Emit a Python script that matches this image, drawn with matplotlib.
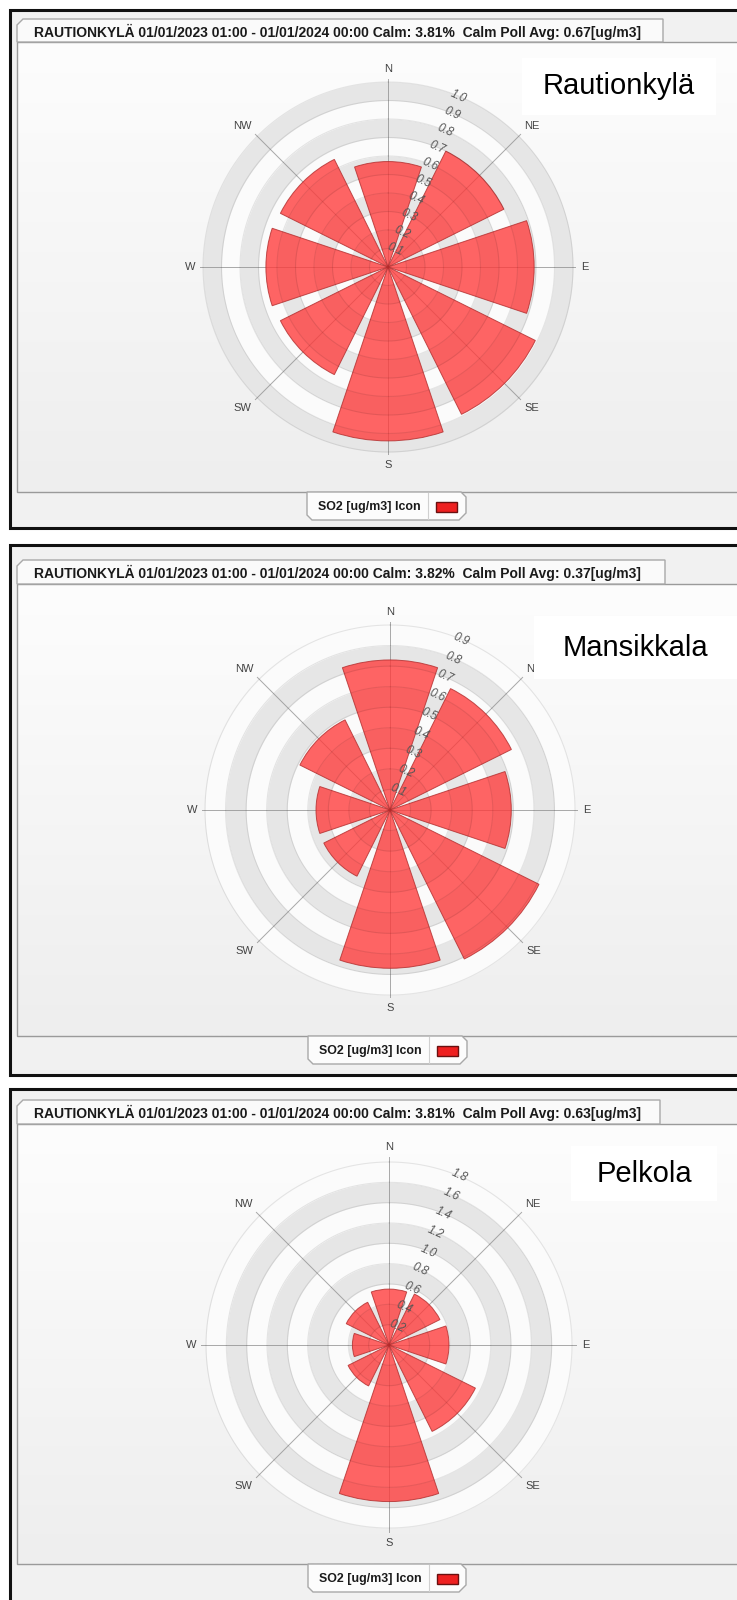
import numpy as np
import matplotlib
matplotlib.use('Agg')
import matplotlib.pyplot as plt
from matplotlib.patches import Rectangle, Polygon

# ---------------- data ----------------
directions = ['N', 'NE', 'E', 'SE', 'S', 'SW', 'W', 'NW']
dir_angles = [0, 45, 90, 135, 180, 225, 270, 315]

rautionkyla = [0.57, 0.70, 0.79, 0.89, 0.94, 0.65, 0.66, 0.65]
mansikkala = [0.73, 0.66, 0.59, 0.81, 0.77, 0.36, 0.36, 0.49]
pelkola = [0.55, 0.56, 0.59, 0.95, 1.54, 0.45, 0.36, 0.47]

ticks_rautionkyla = [0.1, 0.2, 0.3, 0.4, 0.5, 0.6, 0.7, 0.8, 0.9, 1.0]
ticks_mansikkala = [0.1, 0.2, 0.3, 0.4, 0.5, 0.6, 0.7, 0.8, 0.9]
ticks_pelkola = [0.2, 0.4, 0.6, 0.8, 1.0, 1.2, 1.4, 1.6, 1.8]

calm_pct = ['3.81', '3.82', '3.81']
calm_avg = ['0.67', '0.37', '0.63']
site_names = ['Rautionkylä', 'Mansikkala', 'Pelkola']
legend_label = 'SO2 [ug/m3] Icon'
title_fmt = 'RAUTIONKYLÄ 01/01/2023 01:00 - 01/01/2024 00:00 Calm: {}%  Calm Poll Avg: {}[ug/m3]'

series = [rautionkyla, mansikkala, pelkola]
tick_sets = [ticks_rautionkyla, ticks_mansikkala, ticks_pelkola]

# ---------------- layout (pixels) ----------------
W, H = 737, 1600
panels = [
    dict(top=10, bottom=528, tab=(19, 42, 663), plot_bottom=492, leg=(307, 466, 520),
         center=(388, 267), ring_px=185, label_box=(522, 58, 716, 115)),
    dict(top=545, bottom=1075, tab=(560, 584, 665), plot_bottom=1036, leg=(308, 467, 1064),
         center=(390, 810), ring_px=185, label_box=(534, 616, 737, 679)),
    dict(top=1089, bottom=1640, tab=(1100, 1124, 660), plot_bottom=1564, leg=(308, 466, 1592),
         center=(389, 1345), ring_px=183, label_box=(571, 1146, 717, 1201)),
]
COMPASS_PX = 188
LABEL_PAD_PX = 5
label_align = {
    'N': ('center', 'bottom'), 'NE': ('left', 'bottom'), 'E': ('left', 'center'),
    'SE': ('left', 'top'), 'S': ('center', 'top'), 'SW': ('right', 'top'),
    'W': ('right', 'center'), 'NW': ('right', 'bottom'),
}

fig = plt.figure(figsize=(W / 100, H / 100), dpi=100)
fig.patch.set_facecolor('white')

bg = fig.add_axes([0, 0, 1, 1])
bg.set_xlim(0, W)
bg.set_ylim(H, 0)
bg.axis('off')

narrow = ['Liberation Sans Narrow', 'Liberation Sans', 'DejaVu Sans']

renderer = fig.canvas.get_renderer()


def fit_text(t, target_w):
    bb = t.get_window_extent(renderer=renderer)
    t.set_fontsize(t.get_fontsize() * target_w / bb.width)


grad = np.linspace(0, 1, 256).reshape(-1, 1)
gcmap = matplotlib.colors.LinearSegmentedColormap.from_list('g', ['#fdfdfd', '#eeeeee'])

for i, p in enumerate(panels):
    top, bot = p['top'], p['bottom']
    # outer black frame
    bg.add_patch(Rectangle((10, top), W + 20, bot - top, facecolor='#f1f1f1',
                           edgecolor='#111111', lw=2.2, zorder=1))
    # plot area with vertical gradient
    t0, t1, tr = p['tab']
    pb = p['plot_bottom']
    bg.imshow(grad, extent=(17, W + 5, pb, t1), cmap=gcmap, aspect='auto', zorder=2)
    bg.add_patch(Rectangle((17, t1), W, pb - t1, facecolor='none',
                           edgecolor='#9a9a9a', lw=1.0, zorder=3))
    # title tab
    tab = Polygon([(17, t1), (17, t0 + 6), (23, t0), (tr, t0), (tr, t1)], closed=True,
                  facecolor='#fafafa', edgecolor='#a8a8a8', lw=1.0, zorder=4)
    bg.add_patch(tab)
    tt = bg.text(34, (t0 + t1) / 2 + 1, title_fmt.format(calm_pct[i], calm_avg[i]),
                 fontsize=9, family=narrow, fontweight='bold', color='#1a1a1a',
                 ha='left', va='center', zorder=5)
    fit_text(tt, 610)
    # legend tab
    lx0, lx1, ly1 = p['leg']
    ly0 = pb
    leg = Polygon([(lx0, ly0), (lx1 - 5, ly0), (lx1, ly0 + 5), (lx1, ly1 - 7), (lx1 - 7, ly1),
                   (lx0 + 5, ly1), (lx0, ly1 - 5)], closed=True,
                  facecolor='#fcfcfc', edgecolor='#a8a8a8', lw=1.0, zorder=4)
    bg.add_patch(leg)
    lyc = (ly0 + ly1) / 2 + 1
    lt = bg.text(lx0 + 62, lyc, legend_label, fontsize=9, family=narrow, fontweight='bold',
                 color='#1a1a1a', ha='center', va='center', zorder=5)
    fit_text(lt, 102)
    bg.plot([lx0 + 121, lx0 + 121], [ly0 + 1, ly1 - 1], color='#d0d0d0', lw=0.8, zorder=5)
    bg.add_patch(Rectangle((lx0 + 129, lyc - 5), 21, 10, facecolor='#ee2020',
                           edgecolor='#6a1010', lw=1.0, zorder=5))

    # ---------------- rose ----------------
    cx, cy = p['center']
    ticks = tick_sets[i]
    vals = series[i]
    step = ticks[1] - ticks[0]
    rmax = ticks[-1]
    scale = rmax / p['ring_px']          # data units per pixel
    rlim = COMPASS_PX * scale
    ax = fig.add_axes([(cx - COMPASS_PX) / W, 1 - (cy + COMPASS_PX) / H,
                       2 * COMPASS_PX / W, 2 * COMPASS_PX / H], projection='polar')
    ax.set_theta_zero_location('N')
    ax.set_theta_direction(-1)
    ax.set_ylim(0, rlim)
    ax.axis('off')
    th = np.linspace(0, 2 * np.pi, 721)
    for k in range(len(ticks)):
        r0, r1 = k * step, (k + 1) * step
        ax.fill_between(th, r0, r1, color='#e6e6e6' if k % 2 == 1 else '#fbfbfb',
                        lw=0, zorder=1)
    for a in dir_angles:
        ax.plot([np.deg2rad(a), np.deg2rad(a)], [0, rlim], color='#8c8c8c', lw=0.7,
                alpha=0.75, zorder=2)
    ax.bar(np.deg2rad(dir_angles), vals, width=np.deg2rad(37), bottom=0,
           color='#ff3a3a', alpha=0.78, edgecolor='#b02a2a', linewidth=0.7, zorder=3)
    for r in ticks:
        ax.plot(th, np.full_like(th, r), color='black', alpha=0.09, lw=0.8, zorder=4)
    for a, d in zip(dir_angles, directions):
        ha, va = label_align[d]
        ax.text(np.deg2rad(a), (COMPASS_PX + LABEL_PAD_PX) * scale, d, fontsize=8,
                color='#444444', family=narrow, ha=ha, va=va, clip_on=False, zorder=6)
    for r in ticks:
        ax.text(np.deg2rad(22.5), r, '{:.1f}'.format(r), fontsize=8.5, color='#555555',
                family=narrow, style='italic', rotation=-24, rotation_mode='anchor',
                ha='center', va='center', clip_on=False, zorder=6)

top = fig.add_axes([0, 0, 1, 1])
top.set_xlim(0, W)
top.set_ylim(H, 0)
top.axis('off')
top.patch.set_alpha(0)
for i, p in enumerate(panels):
    x0, y0, x1, y1 = p['label_box']
    top.add_patch(Rectangle((x0, y0), x1 - x0, y1 - y0, facecolor='white', edgecolor='none'))
    top.text(x0 + 0.5 * (x1 - x0), y0 + 0.5 * (y1 - y0), site_names[i], fontsize=21,
             family=['Liberation Sans', 'DejaVu Sans'], color='black', ha='center', va='center')

fig.savefig('out.png', dpi=100)
